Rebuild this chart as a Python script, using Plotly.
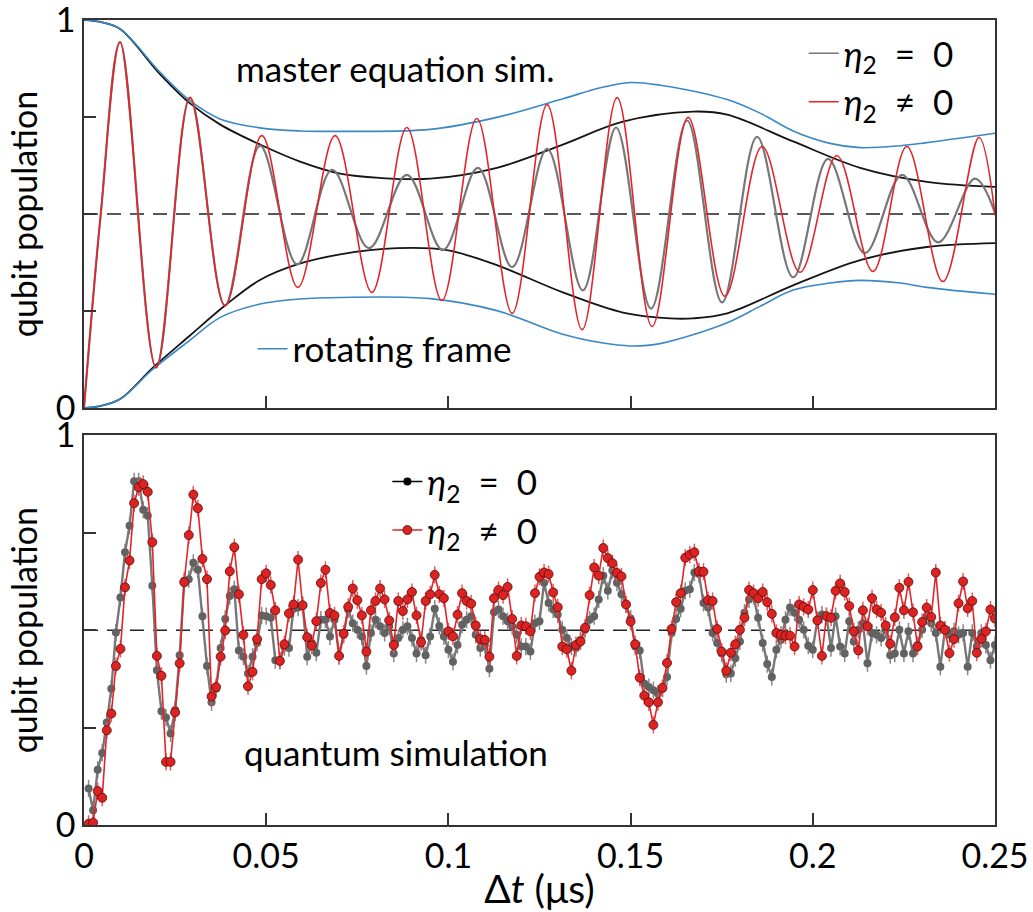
import plotly.graph_objects as go

# ---------------- top panel: master equation simulation ----------------
blue_up_x = [0, 0.0044, 0.0099, 0.0209, 0.0291, 0.0373, 0.0483, 0.0593, 0.0703, 0.0950, 0.1133, 0.1314, 0.1420, 0.1500, 0.1581, 0.1765, 0.1855, 0.1946, 0.2047, 0.2130, 0.2240, 0.2313, 0.25]
blue_up_y = [1.0, 0.995, 0.977, 0.865, 0.792, 0.745, 0.722, 0.714, 0.713, 0.718, 0.749, 0.797, 0.826, 0.839, 0.832, 0.795, 0.76, 0.714, 0.682, 0.671, 0.676, 0.684, 0.708]
blue_lo_x = [0, 0.0044, 0.0099, 0.0189, 0.0291, 0.0373, 0.0483, 0.0593, 0.0703, 0.0950, 0.1133, 0.1314, 0.1420, 0.1500, 0.1581, 0.1765, 0.1855, 0.1946, 0.2047, 0.2130, 0.2240, 0.2313, 0.25]
blue_lo_y = [0.0, 0.005, 0.023, 0.1, 0.175, 0.233, 0.268, 0.281, 0.285, 0.282, 0.251, 0.19, 0.168, 0.16, 0.166, 0.22, 0.262, 0.304, 0.322, 0.329, 0.322, 0.311, 0.293]

black_up_x = [0, 0.0044, 0.0099, 0.0209, 0.0291, 0.0373, 0.0483, 0.0593, 0.0703, 0.0812, 0.0950, 0.1133, 0.1314, 0.1479, 0.1671, 0.1765, 0.1946, 0.2130, 0.2313, 0.25]
black_up_y = [1.0, 0.995, 0.977, 0.86, 0.785, 0.731, 0.679, 0.635, 0.604, 0.593, 0.591, 0.619, 0.679, 0.738, 0.764, 0.756, 0.687, 0.619, 0.583, 0.57]
black_lo_x = [0, 0.0044, 0.0099, 0.0189, 0.0291, 0.0387, 0.0483, 0.0585, 0.0703, 0.0859, 0.0996, 0.1133, 0.1314, 0.1479, 0.1608, 0.1671, 0.1765, 0.1946, 0.2130, 0.2313, 0.25]
black_lo_y = [0.0, 0.005, 0.023, 0.104, 0.187, 0.264, 0.33, 0.37, 0.396, 0.412, 0.407, 0.368, 0.298, 0.246, 0.231, 0.231, 0.244, 0.316, 0.381, 0.415, 0.425]

gray_sim_x = [0, 0.0046, 0.0099, 0.0198, 0.0291, 0.0387, 0.0483, 0.0585, 0.0681, 0.0782, 0.0886, 0.0985, 0.1081, 0.1175, 0.1271, 0.1369, 0.1460, 0.1556, 0.1655, 0.1751, 0.1847, 0.1946, 0.2042, 0.2143, 0.2245, 0.2344, 0.2445, 0.25]
gray_sim_y = [0.0, 0.5, 0.943, 0.104, 0.80, 0.264, 0.676, 0.37, 0.614, 0.412, 0.601, 0.407, 0.619, 0.363, 0.668, 0.303, 0.723, 0.256, 0.741, 0.272, 0.699, 0.337, 0.642, 0.399, 0.601, 0.427, 0.591, 0.503]

red_sim_x = [0, 0.0046, 0.0099, 0.0198, 0.0291, 0.0387, 0.0488, 0.0587, 0.0689, 0.0790, 0.0886, 0.0982, 0.1078, 0.1175, 0.1271, 0.1367, 0.1463, 0.1559, 0.1658, 0.1759, 0.1861, 0.1965, 0.2066, 0.2165, 0.2258, 0.2357, 0.2456, 0.25]
red_sim_y = [0.0, 0.5, 0.943, 0.104, 0.80, 0.264, 0.702, 0.311, 0.702, 0.298, 0.723, 0.277, 0.746, 0.244, 0.782, 0.202, 0.80, 0.21, 0.749, 0.288, 0.674, 0.35, 0.65, 0.352, 0.674, 0.326, 0.697, 0.497]

# ---------------- bottom panel: quantum simulation data ----------------
time_step_us = 0.00125
n_points = 200
delay_us = [round(time_step_us * k, 5) for k in range(1, n_points + 1)]

pop_eta0 = [0.094, 0.038, 0.142, 0.185, 0.263, 0.35, 0.494, 0.584, 0.70, 0.768,
            0.882, 0.882, 0.809, 0.794, 0.614, 0.397, 0.292, 0.276, 0.235, 0.295,
            0.436, 0.627, 0.631, 0.673, 0.655, 0.536, 0.408, 0.315, 0.35, 0.454,
            0.529, 0.588, 0.605, 0.448, 0.432, 0.389, 0.432, 0.467, 0.538, 0.536,
            0.532, 0.423, 0.423, 0.456, 0.454, 0.555, 0.558, 0.564, 0.432, 0.467,
            0.442, 0.527, 0.527, 0.484, 0.527, 0.434, 0.488, 0.553, 0.518, 0.501,
            0.484, 0.408, 0.493, 0.527, 0.51, 0.493, 0.51, 0.44, 0.48, 0.501,
            0.51, 0.48, 0.44, 0.475, 0.436, 0.484, 0.555, 0.511, 0.484, 0.45,
            0.419, 0.462, 0.514, 0.527, 0.536, 0.488, 0.454, 0.462, 0.401, 0.546,
            0.553, 0.536, 0.523, 0.51, 0.488, 0.458, 0.458, 0.445, 0.518, 0.523,
            0.622, 0.57, 0.553, 0.54, 0.501, 0.48, 0.458, 0.454, 0.475, 0.501,
            0.527, 0.536, 0.579, 0.64, 0.601, 0.653, 0.622, 0.592, 0.566, 0.53,
            0.458, 0.448, 0.363, 0.354, 0.346, 0.337, 0.35, 0.38, 0.493, 0.529,
            0.555, 0.601, 0.605, 0.648, 0.644, 0.57, 0.558, 0.493, 0.467, 0.44,
            0.387, 0.389, 0.428, 0.471, 0.545, 0.579, 0.588, 0.532, 0.467, 0.413,
            0.38, 0.45, 0.475, 0.527, 0.558, 0.545, 0.527, 0.501, 0.46, 0.45,
            0.527, 0.54, 0.536, 0.454, 0.536, 0.458, 0.44, 0.523, 0.471, 0.501,
            0.518, 0.415, 0.493, 0.488, 0.48, 0.501, 0.436, 0.44, 0.501, 0.44,
            0.497, 0.44, 0.462, 0.501, 0.536, 0.518, 0.493, 0.406, 0.501, 0.488,
            0.497, 0.488, 0.493, 0.406, 0.493, 0.458, 0.493, 0.462, 0.423, 0.462]

pop_eta_nonzero = [0.003, 0.006, 0.087, 0.07, 0.243, 0.286, 0.408, 0.452, 0.61, 0.679,
                   0.826, 0.867, 0.875, 0.855, 0.726, 0.434, 0.383, 0.162, 0.162, 0.289,
                   0.415, 0.623, 0.744, 0.848, 0.813, 0.683, 0.631, 0.33, 0.354, 0.432,
                   0.499, 0.651, 0.713, 0.592, 0.488, 0.356, 0.393, 0.477, 0.631, 0.646,
                   0.616, 0.551, 0.421, 0.464, 0.543, 0.566, 0.681, 0.564, 0.482, 0.461,
                   0.523, 0.621, 0.655, 0.544, 0.538, 0.434, 0.491, 0.56, 0.607, 0.577,
                   0.538, 0.445, 0.551, 0.575, 0.607, 0.579, 0.525, 0.462, 0.575, 0.549,
                   0.579, 0.598, 0.538, 0.469, 0.575, 0.592, 0.642, 0.592, 0.582, 0.497,
                   0.484, 0.54, 0.595, 0.575, 0.568, 0.512, 0.477, 0.475, 0.432, 0.582,
                   0.603, 0.59, 0.611, 0.529, 0.434, 0.512, 0.51, 0.497, 0.595, 0.637,
                   0.648, 0.644, 0.597, 0.559, 0.458, 0.451, 0.396, 0.462, 0.471, 0.506,
                   0.59, 0.661, 0.64, 0.711, 0.685, 0.672, 0.647, 0.638, 0.566, 0.522,
                   0.464, 0.378, 0.332, 0.315, 0.257, 0.315, 0.352, 0.416, 0.503, 0.572,
                   0.595, 0.686, 0.694, 0.70, 0.651, 0.65, 0.577, 0.575, 0.503, 0.445,
                   0.396, 0.442, 0.464, 0.501, 0.532, 0.603, 0.595, 0.582, 0.598, 0.572,
                   0.542, 0.493, 0.488, 0.486, 0.486, 0.458, 0.566, 0.56, 0.553, 0.603,
                   0.525, 0.434, 0.536, 0.532, 0.601, 0.62, 0.598, 0.562, 0.497, 0.448,
                   0.551, 0.51, 0.582, 0.553, 0.545, 0.512, 0.465, 0.533, 0.609, 0.551,
                   0.624, 0.546, 0.458, 0.521, 0.558, 0.534, 0.648, 0.512, 0.501, 0.441,
                   0.477, 0.569, 0.625, 0.556, 0.575, 0.442, 0.478, 0.497, 0.553, 0.53]
pop_error = 0.022

x_ticks = [0, 0.05, 0.1, 0.15, 0.2, 0.25]
x_ticklabels = ["0", "0.05", "0.1", "0.15", "0.2", "0.25"]
y_ticks = [0, 1]
y_ticklabels = ["0", "1"]
y_minor_ticks = [0.25, 0.5, 0.75]

FONT = "Lato"
BLUE = "#3a88c6"
RED = "#e0262b"
GRAY_LINE = "#777777"
GRAY_MARK = "#626262"
NB = "\u00a0"
lab_eq0 = f"<i>η</i><sub>2</sub>{NB}{NB}={NB}{NB}0"
lab_neq0 = f"<i>η</i><sub>2</sub>{NB}{NB}≠{NB}{NB}0"

fig = go.Figure()

# top panel traces (black envelope under the blue rotating-frame envelope)
for xs, ys in [(black_up_x, black_up_y), (black_lo_x, black_lo_y)]:
    fig.add_trace(go.Scatter(x=xs, y=ys, mode="lines", line=dict(color="#151515", width=1.8, shape="spline"),
                             showlegend=False, xaxis="x", yaxis="y"))
for xs, ys in [(blue_up_x, blue_up_y), (blue_lo_x, blue_lo_y)]:
    fig.add_trace(go.Scatter(x=xs, y=ys, mode="lines", line=dict(color=BLUE, width=1.6, shape="spline"),
                             showlegend=False, xaxis="x", yaxis="y"))
fig.add_trace(go.Scatter(x=gray_sim_x, y=gray_sim_y, mode="lines",
                         line=dict(color=GRAY_LINE, width=2.2, shape="spline"),
                         showlegend=False, xaxis="x", yaxis="y"))
fig.add_trace(go.Scatter(x=red_sim_x, y=red_sim_y, mode="lines",
                         line=dict(color=RED, width=1.6, shape="spline"),
                         showlegend=False, xaxis="x", yaxis="y"))

# legend entries top
fig.add_trace(go.Scatter(x=[None], y=[None], mode="lines", line=dict(color=GRAY_LINE, width=1.6),
                         name=lab_eq0, legend="legend", xaxis="x", yaxis="y"))
fig.add_trace(go.Scatter(x=[None], y=[None], mode="lines", line=dict(color=RED, width=1.6),
                         name=lab_neq0, legend="legend", xaxis="x", yaxis="y"))
fig.add_trace(go.Scatter(x=[None], y=[None], mode="lines", line=dict(color=BLUE, width=1.6),
                         name="rotating frame", legend="legend2", xaxis="x", yaxis="y"))

# bottom panel traces
fig.add_trace(go.Scatter(x=delay_us, y=pop_eta0, mode="lines+markers",
                         line=dict(color=GRAY_LINE, width=2.4),
                         marker=dict(color=GRAY_MARK, size=8, line=dict(width=0)),
                         error_y=dict(type="constant", value=pop_error, color="#888888", thickness=1.5, width=0),
                         showlegend=False, xaxis="x2", yaxis="y2"))
fig.add_trace(go.Scatter(x=delay_us, y=pop_eta_nonzero, mode="lines+markers",
                         line=dict(color=RED, width=1.6),
                         marker=dict(color="#dd2222", size=9, line=dict(width=0.8, color="#5a0a0a")),
                         error_y=dict(type="constant", value=pop_error, color="#ee5555", thickness=1.5, width=0),
                         showlegend=False, xaxis="x2", yaxis="y2"))
fig.add_trace(go.Scatter(x=[None], y=[None], mode="lines+markers", line=dict(color="black", width=1.5),
                         marker=dict(color="black", size=8),
                         name=lab_eq0, legend="legend3", xaxis="x2", yaxis="y2"))
fig.add_trace(go.Scatter(x=[None], y=[None], mode="lines+markers", line=dict(color=RED, width=1.5),
                         marker=dict(color="#dd2222", size=9, line=dict(width=0.8, color="#5a0a0a")),
                         name=lab_neq0, legend="legend3", xaxis="x2", yaxis="y2"))

axis_common = dict(showline=True, linecolor="#333333", linewidth=1.5, mirror=True,
                   ticks="inside", ticklen=12, tickwidth=1.5, tickcolor="#333333",
                   showgrid=False, zeroline=False, automargin=False, ticklabeloverflow="allow",
                   tickfont=dict(family=FONT, size=34, color="black"))
y_minor = dict(tickvals=y_minor_ticks, ticks="inside", ticklen=12, tickwidth=1.5,
               tickcolor="#333333", showgrid=False)

fig.update_layout(
    width=1033, height=912,
    margin=dict(l=84, r=38, t=20, b=87, autoexpand=False),
    paper_bgcolor="white", plot_bgcolor="white",
    font=dict(family=FONT, size=34, color="black"),
    xaxis=dict(domain=[0, 1], range=[0, 0.25], anchor="y", tickvals=x_ticks,
               showticklabels=False, **axis_common),
    yaxis=dict(domain=[0.518, 1.0], range=[0, 1], anchor="x", tickvals=y_ticks, ticktext=y_ticklabels,
               minor=y_minor,
               title=dict(text="qubit population", font=dict(family=FONT, size=34), standoff=8),
               **axis_common),
    xaxis2=dict(domain=[0, 1], range=[0, 0.25], anchor="y2", tickvals=x_ticks, ticktext=x_ticklabels,
                title=dict(text="Δ<i>t</i> (μs)", font=dict(family=FONT, size=39), standoff=2),
                **axis_common),
    yaxis2=dict(domain=[0.0, 0.484], range=[0, 1], anchor="x2", tickvals=y_ticks, ticktext=y_ticklabels,
                minor=y_minor,
                title=dict(text="qubit population", font=dict(family=FONT, size=34), standoff=8),
                **axis_common),
    legend=dict(x=0.79, y=0.995, xanchor="left", yanchor="top", bgcolor="rgba(0,0,0,0)",
                font=dict(family=FONT, size=35), tracegroupgap=0, itemwidth=30),
    legend2=dict(x=0.185, y=0.628, xanchor="left", yanchor="top", bgcolor="rgba(0,0,0,0)",
                 font=dict(family=FONT, size=35), itemwidth=30),
    legend3=dict(x=0.333, y=0.463, xanchor="left", yanchor="top", bgcolor="rgba(0,0,0,0)",
                 font=dict(family=FONT, size=35), itemwidth=30),
    annotations=[
        dict(text="master equation sim.", x=0.342, y=0.94, xref="paper", yref="paper",
             xanchor="center", yanchor="middle",
             showarrow=False, font=dict(family=FONT, size=35)),
        dict(text="quantum simulation", x=0.342, y=0.0907, xref="paper", yref="paper",
             xanchor="center", yanchor="middle",
             showarrow=False, font=dict(family=FONT, size=35)),
    ],
    shapes=[
        dict(type="line", xref="x", yref="y", x0=0, x1=0.25, y0=0.5, y1=0.5,
             line=dict(color="#222222", width=1.5, dash="14px,9px"), layer="below"),
        dict(type="line", xref="x2", yref="y2", x0=0, x1=0.25, y0=0.5, y1=0.5,
             line=dict(color="#222222", width=1.5, dash="14px,9px"), layer="below"),
    ],
)

fig.write_html("out.html")
